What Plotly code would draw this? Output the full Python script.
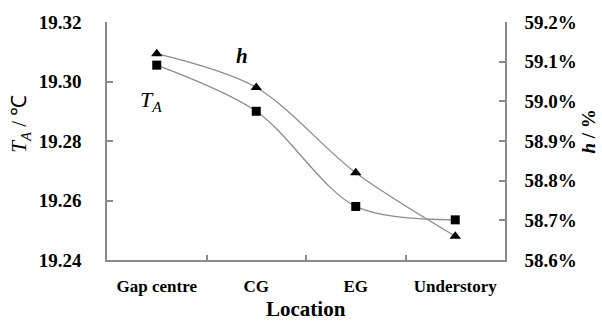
import plotly.graph_objects as go

locations = ["Gap centre", "CG", "EG", "Understory"]
ta_values = [19.3055, 19.2900, 19.2580, 19.2535]
h_values = [0.59120, 0.59035, 0.58820, 0.58660]

left_ticks = [19.24, 19.26, 19.28, 19.30, 19.32]
right_ticks = [0.586, 0.587, 0.588, 0.589, 0.590, 0.591, 0.592]

FONT = "Liberation Serif, Times New Roman, serif"
AX = "#8a8a8a"
LINE = "#8c8c8c"

fig = go.Figure()
fig.add_trace(go.Scatter(
    x=locations, y=ta_values, mode="lines+markers",
    line=dict(shape="spline", smoothing=0.9, color=LINE, width=1.3),
    marker=dict(symbol="square", size=9, color="black"),
    yaxis="y", showlegend=False))
fig.add_trace(go.Scatter(
    x=locations, y=h_values, mode="lines+markers",
    line=dict(shape="spline", smoothing=0.9, color=LINE, width=1.3),
    marker=dict(symbol="triangle-up", size=10, color="black"),
    yaxis="y2", showlegend=False))

fig.update_layout(
    width=602, height=323,
    margin=dict(l=107, r=97, t=19, b=63),
    paper_bgcolor="white", plot_bgcolor="white",
    font=dict(family=FONT, color="black"),
    xaxis=dict(
        type="category", range=[-0.5, 3.5], tickson="boundaries",
        ticks="inside", ticklen=5, tickcolor=AX, tickwidth=1.5,
        showline=True, linecolor=AX, linewidth=1.5, showgrid=False,
        tickfont=dict(family=FONT, size=17, color="black", weight="bold"),
        ticklabelstandoff=10,
    ),
    yaxis=dict(
        range=[19.24, 19.32], tickvals=left_ticks, tickformat=".2f",
        ticks="inside", ticklen=6, tickcolor=AX, tickwidth=1.5,
        showline=True, linecolor=AX, linewidth=1.5, showgrid=False,
        zeroline=False,
        tickfont=dict(family=FONT, size=19, color="black", weight="bold"),
        ticklabelstandoff=20,
    ),
    yaxis2=dict(
        range=[0.586, 0.592], tickvals=right_ticks, tickformat=".1%",
        overlaying="y", side="right",
        ticks="inside", ticklen=6, tickcolor=AX, tickwidth=1.5,
        showline=True, linecolor=AX, linewidth=1.5, showgrid=False,
        zeroline=False,
        tickfont=dict(family=FONT, size=19, color="black", weight="bold"),
        ticklabelstandoff=14,
    ),
)

plot_l, plot_r, plot_t, plot_b = 107, 505, 19, 260


def px_to_paper(x, y):
    return (x - plot_l) / (plot_r - plot_l), (plot_b - y) / (plot_b - plot_t)


lx, ly = px_to_paper(306, 310)
tx, ty = px_to_paper(20, 122)
hx, hy = px_to_paper(589, 130)

annotations = [
    dict(text="<b>Location</b>", x=lx, y=ly, xref="paper", yref="paper",
         xanchor="center", yanchor="middle", showarrow=False,
         font=dict(family=FONT, size=21)),
    dict(text="<i>T</i><sub><i>A</i></sub> / ℃", x=tx, y=ty, xref="paper", yref="paper",
         xanchor="center", yanchor="middle",
         showarrow=False, textangle=-90, font=dict(family=FONT, size=21)),
    dict(text="<b><i>h</i> / %</b>", x=hx, y=hy, xref="paper", yref="paper",
         xanchor="center", yanchor="middle",
         showarrow=False, textangle=-90, font=dict(family=FONT, size=19)),
    dict(text="<b><i>h</i></b>", x=0.86, y=0.59115, xref="x", yref="y2",
         showarrow=False, font=dict(family=FONT, size=21)),
    dict(text="<i>T</i><sub><i>A</i></sub>", x=-0.06, y=19.2935, xref="x", yref="y",
         showarrow=False, font=dict(family=FONT, size=22)),
]
fig.update_layout(annotations=annotations)

fig.write_html("out.html")
